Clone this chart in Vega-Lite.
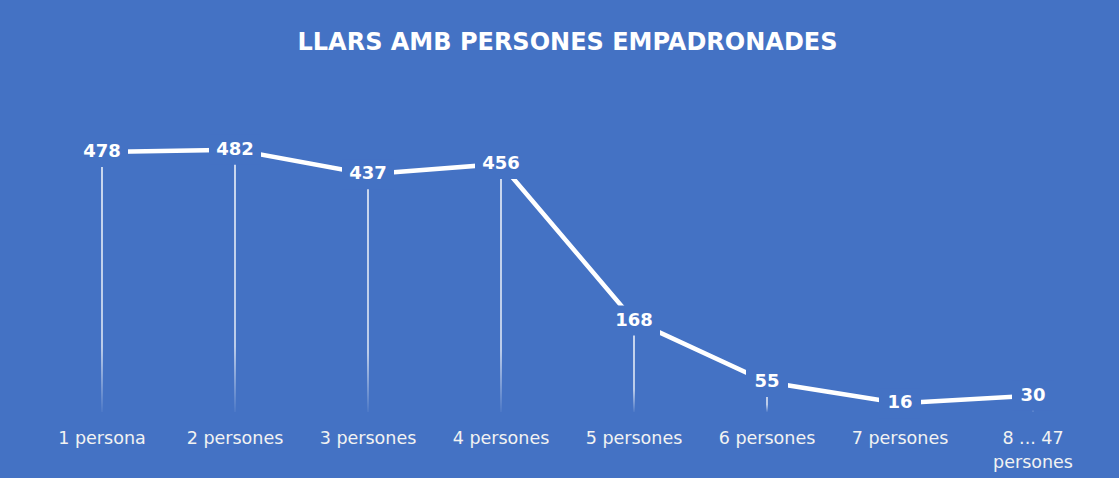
{
  "$schema": "https://vega.github.io/schema/vega-lite/v6.json",
  "width": 1064,
  "height": 272,
  "autosize": {"type": "none"},
  "padding": {"left": 35.5, "top": 140, "right": 19.5, "bottom": 66},
  "background": "#4472C4",
  "title": {
    "text": "LLARS AMB PERSONES EMPADRONADES",
    "color": "#ffffff",
    "font": "DejaVu Sans",
    "fontSize": 24,
    "fontWeight": "bold",
    "anchor": "middle",
    "frame": "group",
    "offset": 80
  },
  "data": {
    "values": [
      {"cat": "1 persona", "v": 478},
      {"cat": "2 persones", "v": 482},
      {"cat": "3 persones", "v": 437},
      {"cat": "4 persones", "v": 456},
      {"cat": "5 persones", "v": 168},
      {"cat": "6 persones", "v": 55},
      {"cat": "7 persones", "v": 16},
      {"cat": "8 ... 47 persones", "v": 30}
    ]
  },
  "encoding": {
    "x": {
      "field": "cat",
      "type": "ordinal",
      "sort": null,
      "scale": {"type": "band", "paddingInner": 0, "paddingOuter": 0},
      "axis": {
        "title": null,
        "labelAngle": 0,
        "domain": false,
        "ticks": false,
        "grid": false,
        "labelColor": "#f2f2f2",
        "labelFont": "DejaVu Sans",
        "labelFontSize": 17.5,
        "labelPadding": 17,
        "labelBaseline": "top",
        "labelLineHeight": 24,
        "labelLimit": 200,
        "labelExpr": "datum.value == '8 ... 47 persones' ? ['8 ... 47', 'persones'] : datum.value"
      }
    },
    "y": {
      "field": "v",
      "type": "quantitative",
      "scale": {"domain": [0, 500], "nice": false, "zero": true},
      "axis": null
    }
  },
  "layer": [
    {
      "mark": {
        "type": "bar",
        "size": 1.6,
        "fill": {
          "gradient": "linear",
          "x1": 0, "y1": 0, "x2": 0, "y2": 1,
          "stops": [
            {"offset": 0, "color": "rgba(255,255,255,0.9)"},
            {"offset": 0.75, "color": "rgba(255,255,255,0.8)"},
            {"offset": 1, "color": "rgba(255,255,255,0.05)"}
          ]
        }
      },
      "encoding": {"y2": {"datum": 0}}
    },
    {
      "mark": {"type": "line", "color": "#ffffff", "strokeWidth": 4.5, "strokeCap": "butt"},
      "encoding": {}
    },
    {
      "transform": [{"filter": "datum.v >= 100"}],
      "mark": {
        "type": "point",
        "filled": true,
        "color": "#4472C4",
        "opacity": 1,
        "size": 2704,
        "shape": "M-1,-0.577H1V0.577H-1Z"
      }
    },
    {
      "transform": [{"filter": "datum.v < 100"}],
      "mark": {
        "type": "point",
        "filled": true,
        "color": "#4472C4",
        "opacity": 1,
        "size": 1764,
        "shape": "M-1,-0.714H1V0.714H-1Z"
      }
    },
    {
      "mark": {
        "type": "text",
        "color": "#ffffff",
        "font": "DejaVu Sans",
        "fontSize": 18,
        "fontWeight": "bold",
        "align": "center",
        "baseline": "middle"
      },
      "encoding": {"text": {"field": "v", "type": "quantitative"}}
    }
  ],
  "config": {"view": {"stroke": null}}
}
